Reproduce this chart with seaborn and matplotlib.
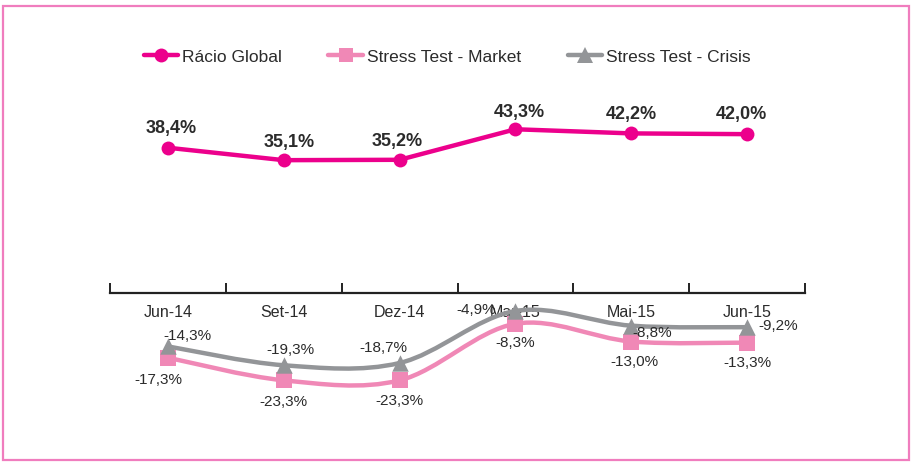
import numpy as np
import pandas as pd
import matplotlib
matplotlib.use("Agg")
import matplotlib.pyplot as plt
from matplotlib.path import Path
from matplotlib.patches import PathPatch, Rectangle
from matplotlib.lines import Line2D
import seaborn as sns

categories = ["Jun-14", "Set-14", "Dez-14", "Mar-15", "Mai-15", "Jun-15"]
racio_global = [38.4, 35.1, 35.2, 43.3, 42.2, 42.0]
stress_market = [-17.3, -23.3, -23.3, -8.3, -13.0, -13.3]
stress_crisis = [-14.3, -19.3, -18.7, -4.9, -8.8, -9.2]

c_global = "#EC008C"
c_market = "#F088B6"
c_crisis = "#939598"
c_text = "#2B2B2B"

sns.set_theme(style="white")
plt.rcParams['font.family'] = ['Liberation Sans Narrow', 'Liberation Sans', 'DejaVu Sans']

fig = plt.figure(figsize=(9.11, 4.62), dpi=100)
ax = fig.add_axes([110/911, 1 - 405.6/462, 695/911, (405.6 - 104)/462])

x = np.arange(len(categories))
df = pd.DataFrame({"cat": x, "Rácio Global": racio_global,
                   "Stress Test - Market": stress_market,
                   "Stress Test - Crisis": stress_crisis})


def smooth_path(xs, ys, tension=1/6):
    xs = list(xs); ys = list(ys)
    n = len(xs)
    verts = [(xs[0], ys[0])]
    codes = [Path.MOVETO]
    for i in range(n - 1):
        x0, y0 = (xs[i - 1], ys[i - 1]) if i > 0 else (xs[i], ys[i])
        x1, y1 = xs[i], ys[i]
        x2, y2 = xs[i + 1], ys[i + 1]
        x3, y3 = (xs[i + 2], ys[i + 2]) if i + 2 < n else (xs[i + 1], ys[i + 1])
        c1 = (x1 + (x2 - x0) * tension, y1 + (y2 - y0) * tension)
        c2 = (x2 - (x3 - x1) * tension, y2 - (y3 - y1) * tension)
        verts += [c1, c2, (x2, y2)]
        codes += [Path.CURVE4] * 3
    return Path(verts, codes)


# smoothed stress lines
for vals, col in [(stress_market, c_market), (stress_crisis, c_crisis)]:
    ax.add_patch(PathPatch(smooth_path(x, vals), facecolor="none",
                           edgecolor=col, lw=3.2, zorder=2,
                           capstyle="round"))

sns.lineplot(data=df, x="cat", y="Rácio Global", ax=ax, color=c_global,
             lw=3.2, marker="o", markersize=10, markeredgewidth=0, zorder=3)
sns.scatterplot(data=df, x="cat", y="Stress Test - Market", ax=ax,
                color=c_market, marker="s", s=120, linewidth=0, zorder=4)
sns.scatterplot(data=df, x="cat", y="Stress Test - Crisis", ax=ax,
                color=c_crisis, marker="^", s=140, linewidth=0, zorder=4)

ax.set_xlim(-0.5, len(categories) - 0.5)
ax.set_ylim(-30, 50)
ax.set_xlabel("")
ax.set_ylabel("")
ax.set_yticks([])
for s in ["top", "right", "left"]:
    ax.spines[s].set_visible(False)
ax.spines["bottom"].set_position(("data", 0))
ax.spines["bottom"].set_color("#222222")
ax.spines["bottom"].set_linewidth(1.6)
ax.set_xticks(np.arange(-0.5, len(categories), 1.0))
ax.set_xticklabels([])
ax.tick_params(axis="x", which="major", direction="in", length=7,
               width=1.4, color="#222222", bottom=True)
ax.set_xticks(x, minor=True)
ax.set_xticklabels(categories, minor=True)
ax.tick_params(axis="x", which="minor", length=0, pad=9,
               labelsize=11.5, labelcolor=c_text)

# data labels
g_off = [(3, 19), (5, 18), (-2, 18), (4, 17), (0, 19), (-6, 20)]
m_off = [(-10, -22), (0, -22), (0, -21), (0, -19), (3, -20), (0, -20)]
c_off = [(20, 10), (7, 15), (-16, 15), (-39, 1), (21, -7), (31, 1)]


def fmt(v):
    return f"{v:.1f}%".replace(".", ",")


for i in range(len(categories)):
    ax.annotate(fmt(racio_global[i]), (x[i], racio_global[i]),
                xytext=g_off[i], textcoords="offset pixels",
                ha="center", va="center", fontsize=13, fontweight="bold",
                color=c_text, zorder=5)
    ax.annotate(fmt(stress_market[i]), (x[i], stress_market[i]),
                xytext=m_off[i], textcoords="offset pixels",
                ha="center", va="center", fontsize=11, color=c_text, zorder=5)
    ax.annotate(fmt(stress_crisis[i]), (x[i], stress_crisis[i]),
                xytext=c_off[i], textcoords="offset pixels",
                ha="center", va="center", fontsize=11, color=c_text, zorder=5)

handles = [
    Line2D([], [], color=c_global, lw=3.2, marker="o", markersize=10, markeredgewidth=0),
    Line2D([], [], color=c_market, lw=3.2, marker="s", markersize=10, markeredgewidth=0),
    Line2D([], [], color=c_crisis, lw=3.2, marker="^", markersize=11, markeredgewidth=0),
]
fig.legend(handles, ["Rácio Global", "Stress Test - Market", "Stress Test - Crisis"],
           loc="center", bbox_to_anchor=(447/911, 1 - 57/462), ncol=3,
           frameon=False, fontsize=12.5, handlelength=2.0, handletextpad=0.2,
           columnspacing=2.7, labelcolor=c_text)

# frame
fig.add_artist(Rectangle((3/911, 1 - 460/462), 906/911, 454/462,
                         transform=fig.transFigure, fill=False,
                         edgecolor="#F07DBE", lw=1.6))

fig.savefig("out.png", dpi=100, facecolor="white")
